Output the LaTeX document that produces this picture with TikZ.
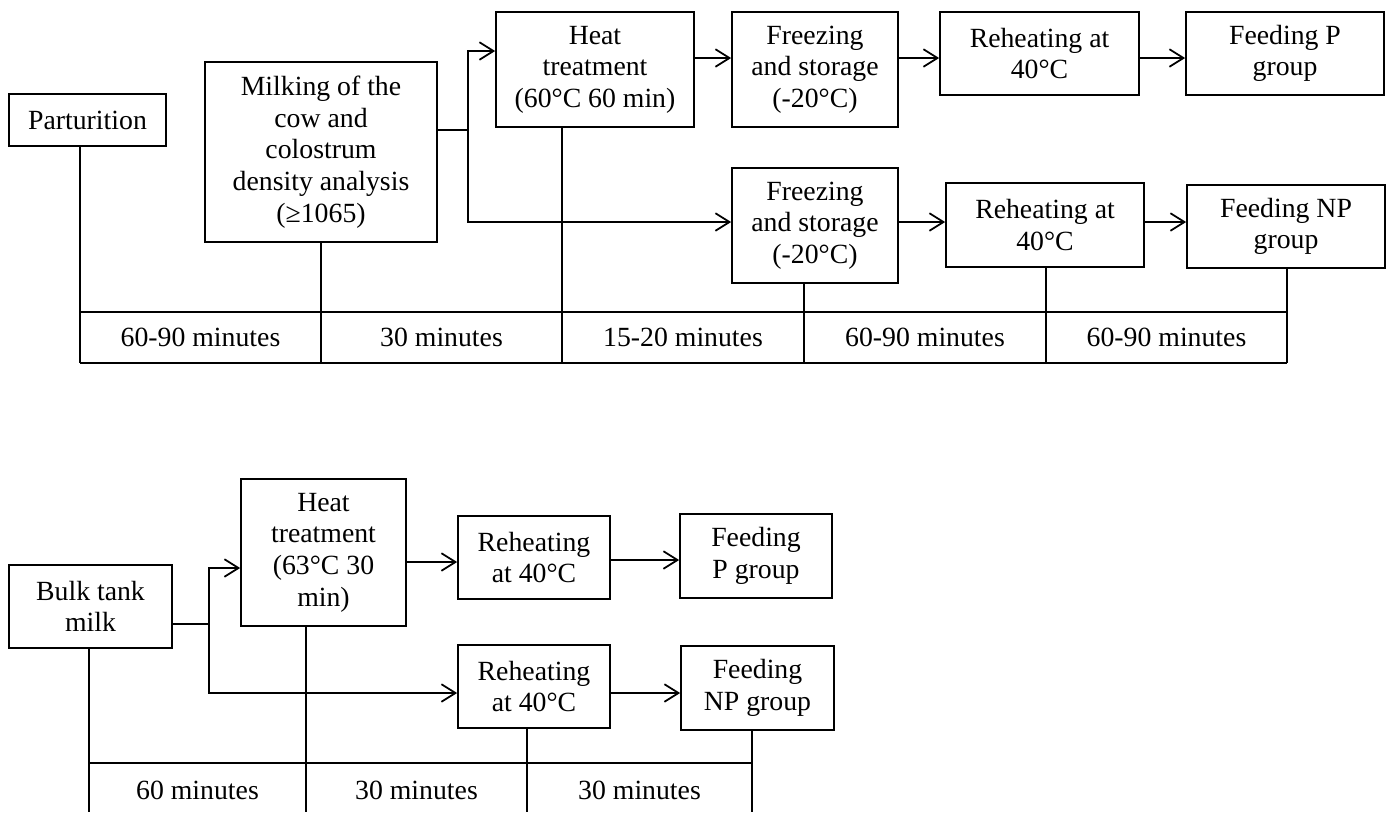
\documentclass[tikz,border=0pt]{standalone}
\usepackage{fontspec}
\setmainfont{Liberation Serif}
\usetikzlibrary{arrows.meta}

\tikzset{
  box/.style={draw, line width=1pt, align=center, inner sep=0pt,
    font=\fontsize{15.8}{18}\selectfont},
  lbl/.style={font=\fontsize{15.8}{18}\selectfont},
  line/.style={line width=1pt},
  flow/.style={line width=1pt, -{Straight Barb[length=8pt,width=10pt,line width=1pt]}}
}

\begin{document}
\begin{tikzpicture}[x=0.02cm,y=-0.02cm]
\useasboundingbox (0,0) rectangle (1387,812);
% colostrum route
\node[box,minimum width=3.14cm,minimum height=1.04cm] (part) at (87.5,120) {Parturition};
\node[box,minimum width=4.64cm,minimum height=3.6cm] (milk) at (321,152) {Milking of the\\cow and\\colostrum\\density analysis\\(≥1065)};
\node[box,minimum width=3.96cm,minimum height=2.3cm] (heatA) at (595,69.5) {Heat\\treatment\\(60°C 60 min)};
\node[box,minimum width=3.32cm,minimum height=2.3cm] (frzA) at (815,69.5) {Freezing\\and storage\\(-20°C)};
\node[box,minimum width=3.98cm,minimum height=1.66cm] (rehA) at (1039.5,53.5) {Reheating at\\40°C};
\node[box,minimum width=3.96cm,minimum height=1.66cm] (feedA) at (1285,53.5) {Feeding P\\group};
\node[box,minimum width=3.32cm,minimum height=2.3cm] (frzB) at (815,225.5) {Freezing\\and storage\\(-20°C)};
\node[box,minimum width=3.96cm,minimum height=1.68cm] (rehB) at (1045,225) {Reheating at\\40°C};
\node[box,minimum width=3.96cm,minimum height=1.66cm] (feedB) at (1286,226.5) {Feeding NP\\group};

\coordinate (brA) at (468,130);
\draw[line] (milk.east |- brA) -- (brA);
\draw[flow] (brA) |- (heatA.west |- 0,51);
\draw[flow] (brA) |- (frzB.west |- 0,222);
\draw[flow] (heatA.east |- 0,58) -- (frzA.west |- 0,58);
\draw[flow] (frzA.east |- 0,58) -- (rehA.west |- 0,58);
\draw[flow] (rehA.east |- 0,58) -- (feedA.west |- 0,58);
\draw[flow] (frzB.east |- 0,222) -- (rehB.west |- 0,222);
\draw[flow] (rehB.east |- 0,222) -- (feedB.west |- 0,222);

% time line, colostrum
\foreach \src/\n/\x in {part/0/80, milk/1/321, heatA/2/562, frzB/3/804, rehB/4/1046, feedB/5/1287} {
  \coordinate (tA\n) at (\x,312);
  \coordinate (bA\n) at (\x,363);
  \draw[line] (\src.south -| tA\n) -- (bA\n);
}
\draw[line] (tA0) -- (tA5);
\draw[line] (bA0) -- (bA5);
\node[lbl] (dA1) at (200.5,337.5) {60-90 minutes};
\node[lbl] (dA2) at (441.5,337.5) {30 minutes};
\node[lbl] (dA3) at (683,337.5) {15-20 minutes};
\node[lbl] (dA4) at (925,337.5) {60-90 minutes};
\node[lbl] (dA5) at (1166.5,337.5) {60-90 minutes};

% bulk tank milk route
\node[box,minimum width=3.26cm,minimum height=1.66cm] (bulk) at (90.5,606.5) {Bulk tank\\milk};
\node[box,minimum width=3.3cm,minimum height=2.94cm] (heatB) at (323.5,552.5) {Heat\\treatment\\(63°C 30\\min)};
\node[box,minimum width=3.04cm,minimum height=1.66cm] (rehC) at (534,557.5) {Reheating\\at 40°C};
\node[box,minimum width=3.04cm,minimum height=1.68cm] (feedC) at (756,556) {Feeding\\P group};
\node[box,minimum width=3.04cm,minimum height=1.66cm] (rehD) at (534,686.5) {Reheating\\at 40°C};
\node[box,minimum width=3.06cm,minimum height=1.68cm] (feedD) at (757.5,688) {Feeding\\NP group};

\coordinate (brB) at (209,624);
\draw[line] (bulk.east |- brB) -- (brB);
\draw[flow] (brB) |- (heatB.west |- 0,568);
\draw[flow] (brB) |- (rehD.west |- 0,693);
\draw[flow] (heatB.east |- 0,562) -- (rehC.west |- 0,562);
\draw[flow] (rehC.east |- 0,560) -- (feedC.west |- 0,560);
\draw[flow] (rehD.east |- 0,693) -- (feedD.west |- 0,693);

% time line, bulk tank milk
\foreach \src/\n/\x in {bulk/0/89, heatB/1/306, rehD/2/527, feedD/3/752} {
  \coordinate (tB\n) at (\x,763);
  \coordinate (bB\n) at (\x,812);
  \draw[line] (\src.south -| tB\n) -- (bB\n);
}
\draw[line] (tB0) -- (tB3);
\node[lbl] (dB1) at (197.5,790) {60 minutes};
\node[lbl] (dB2) at (416.5,790) {30 minutes};
\node[lbl] (dB3) at (639.5,790) {30 minutes};
\end{tikzpicture}
\end{document}
